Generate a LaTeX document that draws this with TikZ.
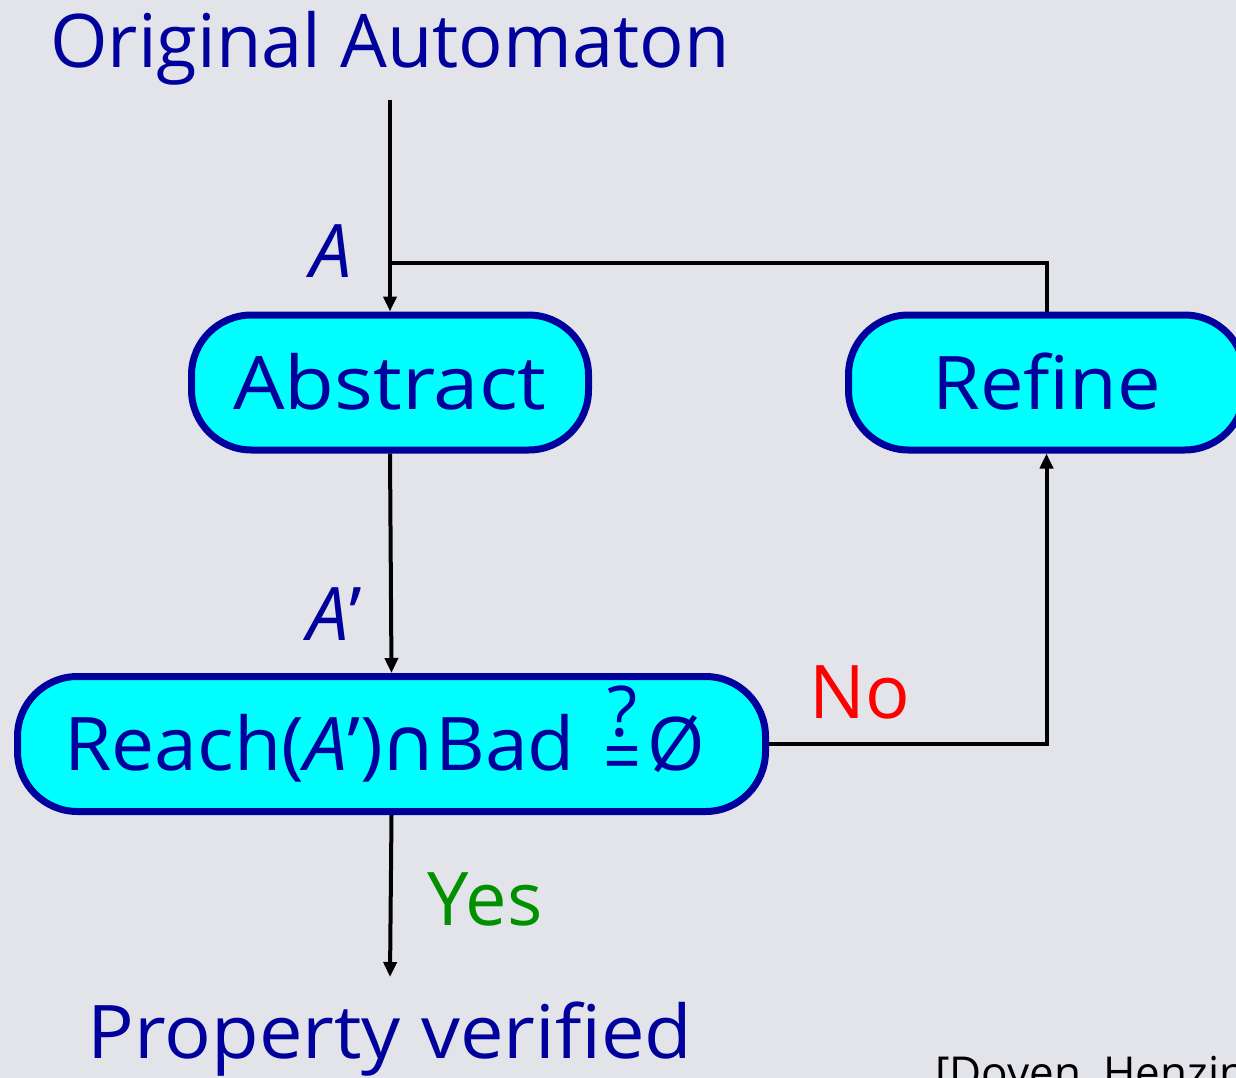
\documentclass[tikz,border=0pt]{standalone}
\usepackage{fontspec}
\setmainfont{Open Sans}
\newfontfamily\symfont{DejaVu Sans}
\usetikzlibrary{arrows.meta}
\definecolor{bg}{HTML}{E3E4EA}
\definecolor{navy}{HTML}{00009C}
\definecolor{boxfill}{HTML}{00FFFF}
\definecolor{nored}{HTML}{FF0000}
\definecolor{yesgreen}{HTML}{009000}
\newcommand{\bigfont}{\fontsize{74}{80}\selectfont}
% question mark stacked over an equals sign
\newcommand{\qeq}{\ooalign{\hfil\raisebox{0.46em}{\fontsize{70}{74}\selectfont ?}\hfil\cr\hfil\raisebox{-0.16em}{\scalebox{0.9}[1]{=}}\hfil\cr}}
\newcommand{\wide}[2]{\scalebox{#1}[1]{#2}}
\begin{document}
\begin{tikzpicture}[x=1pt,y=-1pt,
  stagebox/.style={draw=navy, line width=7pt, fill=boxfill, rounded corners=60pt,
    text=navy, font=\bigfont, inner sep=0pt, text height=53pt, text depth=0pt,
    minimum height=135pt},
  lab/.style={font=\bigfont, inner sep=0pt, anchor=base},
  flow/.style={line width=4pt, draw=black},
  arr/.style={flow, -{Triangle[length=15pt,width=13pt]}}]
\fill[bg] (0,0) rectangle (1236,1078);
\useasboundingbox (0,0) rectangle (1236,1078);
\clip (0,0) rectangle (1236,1078);

% headings
\node[lab, text=navy] (orig) at (390,68) {Original Automaton};
\node[lab, text=navy] (prop) at (390,1058) {\wide{1.05}{Property verified}};
\node[lab, anchor=base west, font=\fontsize{44}{48}\selectfont] (cite) at (935,1088) {[Doyen, Henzinger, Raskin]};

% stages
\node[stagebox, minimum width=397pt] (abs) at (390,382.5) {\wide{1.1}{Abstract}};
\node[stagebox, minimum width=396pt] (ref) at (1046.5,382.5) {\wide{1.05}{Refine}};
\node[stagebox, minimum width=748pt] (reach) at (391.5,744)
  {\hspace{-14pt}\wide{1.04}{Reach(\textit{A}')\hspace{-0.04em}{\symfont ∩}\hspace{-0.02em}Bad}\hspace{0.38em}\qeq\hspace{0.08em}Ø};

% labels
\node[lab, text=navy] (la) at (331,277) {\textit{A}};
\node[lab, text=navy] (lb) at (335,640) {\textit{A}'};
\node[lab, text=nored] (no) at (860,718) {No};
\node[lab, text=yesgreen] (yes) at (485,925) {Yes};

% connectors
\coordinate (in) at (390,100);
\coordinate (j) at (390,263);
\coordinate (out) at (390,977);
\draw[arr] (in) -- (abs.north);
\draw[flow] (ref.north) |- (j);
\draw[arr] (abs.south) -- (reach.north);
\draw[arr] (reach.east) -| (ref.south);
\draw[arr] (reach.south) -- (out);
\end{tikzpicture}
\end{document}
